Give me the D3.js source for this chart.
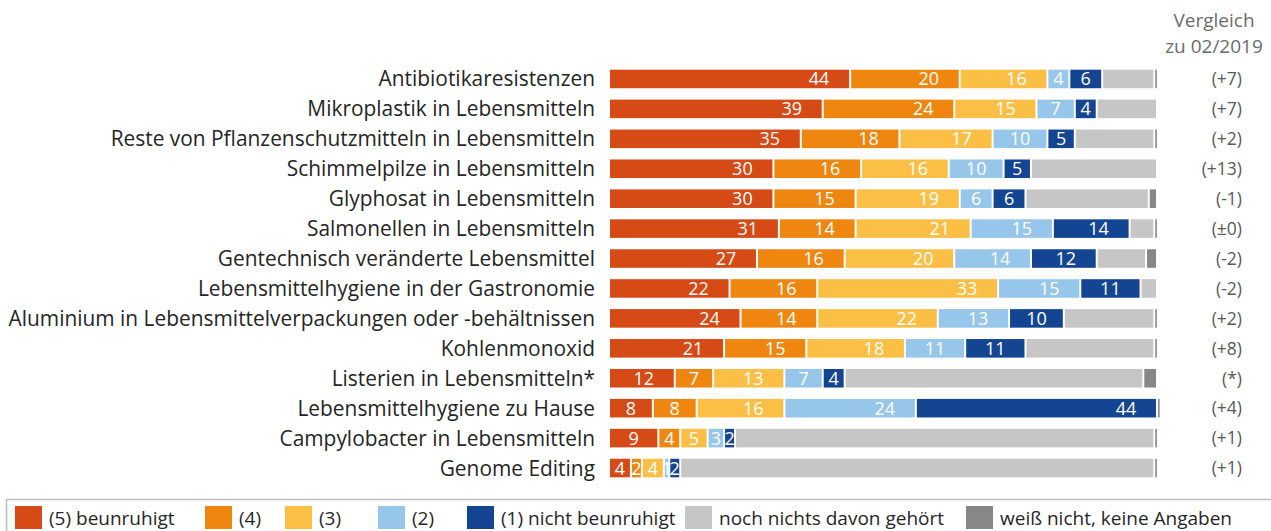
<!DOCTYPE html>
<html><head><meta charset="utf-8">
<script src="https://cdn.jsdelivr.net/npm/d3@7"></script>
<style>
body{margin:0;background:#fff;}
svg{display:block;font-family:"Open Sans",sans-serif;}
</style></head><body>
<svg id="c" width="1271" height="531"></svg>
<script>
const categories = [
 "Antibiotikaresistenzen",
 "Mikroplastik in Lebensmitteln",
 "Reste von Pflanzenschutzmitteln in Lebensmitteln",
 "Schimmelpilze in Lebensmitteln",
 "Glyphosat in Lebensmitteln",
 "Salmonellen in Lebensmitteln",
 "Gentechnisch veränderte Lebensmittel",
 "Lebensmittelhygiene in der Gastronomie",
 "Aluminium in Lebensmittelverpackungen oder -behältnissen",
 "Kohlenmonoxid",
 "Listerien in Lebensmitteln*",
 "Lebensmittelhygiene zu Hause",
 "Campylobacter in Lebensmitteln",
 "Genome Editing"
];
const s5 = [44,39,35,30,30,31,27,22,24,21,12,8,9,4];
const s4 = [20,24,18,16,15,14,16,16,14,15,7,8,4,2];
const s3 = [16,15,17,16,19,21,20,33,22,18,13,16,5,4];
const s2 = [4,7,10,10,6,15,14,15,13,11,7,24,3,1];
const s1 = [6,4,5,5,6,14,12,11,10,11,4,44,2,2];
const notHeard = [9.5,11,14.5,23,22.5,4.5,9,3,16.5,23.5,54.5,0,76.5,86.5];
const dontKnow = [0.5,0,0.5,0,1.5,0.5,2,0,0.5,0.5,2.5,0.5,0.5,0.5];
const comparison = ["(+7)","(+7)","(+2)","(+13)","(-1)","(±0)","(-2)","(-2)","(+2)","(+8)","(*)","(+4)","(+1)","(+1)"];
const seriesNames = ["(5) beunruhigt","(4)","(3)","(2)","(1) nicht beunruhigt","noch nichts davon gehört","weiß nicht, keine Angaben"];
const colors = ["#D64A16","#EE860F","#FBBF45","#96C6E9","#144592","#C6C6C6","#878787"];
const headerLines = ["Vergleich","zu 02/2019"];

// layout (legend swatch positions)
const legendX = [15,205,285,378,467,685,966];

const series = [s5,s4,s3,s2,s1,notHeard,dontKnow];
const rows = categories.map((c,i)=>{
  const o={cat:c};
  series.forEach((s,k)=>o["k"+k]=s[i]);
  return o;
});
const keys = series.map((s,k)=>"k"+k);
const stacked = d3.stack().keys(keys)(rows);

const svg = d3.select("#c");
const x = d3.scaleLinear().domain([0,100]).range([610,1158]);
const y = d3.scaleBand().domain(categories).range([64,483]).paddingInner(0.38).paddingOuter(0.19);

const g = svg.append("g");
stacked.forEach((layer,k)=>{
  const lg = g.append("g");
  lg.selectAll("rect").data(layer).join("rect")
    .attr("x",d=>x(d[0]))
    .attr("y",d=>y(d.data.cat))
    .attr("width",d=>{const w=x(d[1])-x(d[0]); return w<=0?0:Math.max(w-2,1.6);})
    .attr("height",y.bandwidth())
    .attr("fill",colors[k]);
  if(k<5){
    lg.selectAll("text").data(layer).join("text")
      .attr("x",d=>{const x1=x(d[1])-2, w=x(d[1])-x(d[0])-2; return x1-Math.min(w/2,30);})
      .attr("y",d=>y(d.data.cat)+y.bandwidth()/2)
      .attr("dy","0.36em")
      .attr("text-anchor","middle")
      .attr("fill","#fff")
      .attr("font-size",18)
      .text(d=>d[1]-d[0]);
  }
});

// category labels
svg.append("g").selectAll("text").data(categories).join("text")
  .attr("x",595).attr("y",d=>y(d)+y.bandwidth()/2).attr("dy","0.36em")
  .attr("text-anchor","end").attr("fill","#262626").attr("font-size",20.9)
  .text(d=>d);

// comparison
svg.append("g").selectAll("text").data(comparison).join("text")
  .attr("x",1242).attr("y",(d,i)=>y(categories[i])+y.bandwidth()/2).attr("dy","0.36em")
  .attr("text-anchor","end").attr("fill","#595959").attr("font-size",17.5)
  .text(d=>d);

svg.append("g").selectAll("text").data(headerLines).join("text")
  .attr("x",1214).attr("y",(d,i)=>27+i*26)
  .attr("text-anchor","middle").attr("fill","#6b6b6b").attr("font-size",19)
  .text(d=>d);

// legend
svg.append("path").attr("d","M6.5,531V499.5H1271").attr("fill","none").attr("stroke","#bdbdbd").attr("stroke-width",1.5);
const leg = svg.append("g");
seriesNames.forEach((n,k)=>{
  const lx = legendX[k];
  leg.append("rect").attr("x",lx).attr("y",506).attr("width",27).attr("height",23).attr("fill",colors[k]);
  leg.append("text").attr("x",lx+34).attr("y",518).attr("dy","0.36em")
    .attr("fill","#262626").attr("font-size",19).text(n);
});
</script>
</body></html>
